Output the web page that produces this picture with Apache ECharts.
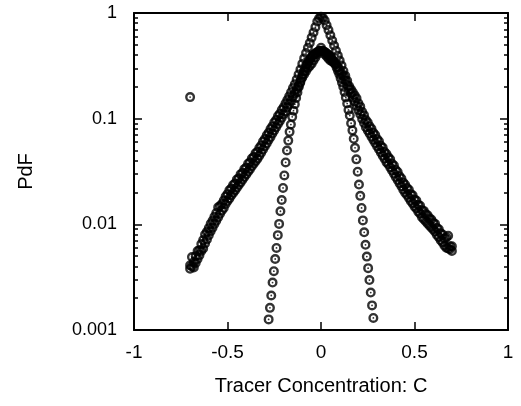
<!DOCTYPE html>
<html>
<head>
<meta charset="utf-8">
<script src="https://cdn.jsdelivr.net/npm/echarts@6/dist/echarts.min.js"></script>
<style>html,body{margin:0;padding:0;background:#fff;}#c{width:521px;height:406px;}</style>
</head>
<body>
<div id="c"></div>
<script>
// ---- data ----
const xTicks = [-1, -0.5, 0, 0.5, 1];
const yTicks = [0.001, 0.01, 0.1, 1];
const yMinorTicks = [0.002,0.003,0.004,0.005,0.006,0.007,0.008,0.009,
  0.02,0.03,0.04,0.05,0.06,0.07,0.08,0.09,
  0.2,0.3,0.4,0.5,0.6,0.7,0.8,0.9];

const narrowX = [-0.280,-0.273,-0.266,-0.259,-0.252,-0.245,-0.238,-0.231,-0.224,-0.217,
  -0.210,-0.203,-0.196,-0.189,-0.182,-0.175,-0.168,-0.161,-0.154,-0.147,
  -0.140,-0.133,-0.126,-0.119,-0.112,-0.105,-0.098,-0.091,-0.084,-0.077,
  -0.070,-0.063,-0.056,-0.049,-0.042,-0.035,-0.028,-0.021,-0.014,-0.007,
  0.000,0.007,0.014,0.021,0.028,0.035,0.042,0.049,0.056,0.063,
  0.070,0.077,0.084,0.091,0.098,0.105,0.112,0.119,0.126,0.133,
  0.140,0.147,0.154,0.161,0.168,0.175,0.182,0.189,0.196,0.203,
  0.210,0.217,0.224,0.231,0.238,0.245,0.252,0.259,0.266,0.273,0.280];
const narrowP = [0.00126,0.00162,0.00212,0.00281,0.00360,0.00470,0.00598,0.00790,0.0101,0.0133,
  0.0170,0.0221,0.0290,0.0385,0.0500,0.0620,0.0750,0.0880,0.104,0.119,
  0.137,0.157,0.177,0.199,0.218,0.240,0.262,0.281,0.301,0.323,
  0.339,0.355,0.371,0.388,0.398,0.407,0.417,0.426,0.432,0.436,
  0.438,0.437,0.433,0.427,0.418,0.408,0.399,0.390,0.373,0.356,
  0.340,0.325,0.303,0.283,0.264,0.241,0.220,0.201,0.179,0.159,
  0.139,0.121,0.107,0.0905,0.0775,0.0645,0.0530,0.0412,0.0315,0.0238,
  0.0186,0.0143,0.0109,0.00840,0.00640,0.00495,0.00385,0.00297,0.00226,0.00171,0.00130];

const broadX = [-0.70,-0.69,-0.68,-0.67,-0.66,-0.65,-0.64,-0.63,-0.62,-0.61,
  -0.60,-0.59,-0.58,-0.57,-0.56,-0.55,-0.54,-0.53,-0.52,-0.51,
  -0.50,-0.49,-0.48,-0.47,-0.46,-0.45,-0.44,-0.43,-0.42,-0.41,
  -0.40,-0.39,-0.38,-0.37,-0.36,-0.35,-0.34,-0.33,-0.32,-0.31,
  -0.30,-0.29,-0.28,-0.27,-0.26,-0.25,-0.24,-0.23,-0.22,-0.21,
  -0.20,-0.19,-0.18,-0.17,-0.16,-0.15,-0.14,-0.13,-0.12,-0.11,
  -0.10,-0.09,-0.08,-0.07,-0.06,-0.05,-0.04,-0.03,-0.02,-0.01,
  0.00,0.01,0.02,0.03,0.04,0.05,0.06,0.07,0.08,0.09,
  0.10,0.11,0.12,0.13,0.14,0.15,0.16,0.17,0.18,0.19,
  0.20,0.21,0.22,0.23,0.24,0.25,0.26,0.27,0.28,0.29,
  0.30,0.31,0.32,0.33,0.34,0.35,0.36,0.37,0.38,0.39,
  0.40,0.41,0.42,0.43,0.44,0.45,0.46,0.47,0.48,0.49,
  0.50,0.51,0.52,0.53,0.54,0.55,0.56,0.57,0.58,0.59,
  0.60,0.61,0.62,0.63,0.64,0.65,0.66,0.67,0.68,0.69,0.70];
const broadA = [0.0041,0.0049,0.0044,0.0050,0.0056,0.0057,0.0065,0.0071,0.0080,0.0085,
  0.0092,0.0101,0.0108,0.0118,0.0128,0.0145,0.0149,0.0156,0.0168,0.0183,
  0.0193,0.0210,0.0218,0.0236,0.0243,0.0265,0.0273,0.0297,0.0307,0.0333,
  0.0344,0.0375,0.0386,0.0420,0.0434,0.0471,0.0487,0.0528,0.0558,0.0607,
  0.0641,0.0697,0.0736,0.0799,0.0845,0.0918,0.0970,0.106,0.111,0.121,
  0.128,0.139,0.150,0.163,0.178,0.195,0.212,0.235,0.262,0.292,
  0.330,0.372,0.418,0.468,0.520,0.585,0.655,0.735,0.830,0.890,
  0.920,0.900,0.850,0.765,0.690,0.615,0.550,0.492,0.440,0.395,
  0.355,0.318,0.283,0.254,0.228,0.204,0.190,0.178,0.166,0.156,
  0.140,0.130,0.116,0.108,0.0970,0.0920,0.0845,0.0800,0.0735,0.0700,
  0.0640,0.0610,0.0555,0.0532,0.0484,0.0463,0.0431,0.0413,0.0375,0.0360,
  0.0327,0.0313,0.0285,0.0272,0.0248,0.0237,0.0221,0.0212,0.0193,0.0188,
  0.0172,0.0168,0.0153,0.0150,0.0136,0.0134,0.0125,0.0122,0.0114,0.0111,
  0.0104,0.0101,0.00925,0.00900,0.00825,0.00800,0.00735,0.00750,0.00780,0.00620,0.00620];
const broadB = [0.0038,0.0040,0.0039,0.0043,0.0047,0.0051,0.0056,0.0059,0.0066,0.0072,
  0.0079,0.0086,0.0093,0.0101,0.0108,0.0117,0.0126,0.0135,0.0143,0.0156,
  0.0166,0.0176,0.0188,0.0198,0.0209,0.0222,0.0236,0.0249,0.0264,0.0280,
  0.0297,0.0314,0.0333,0.0354,0.0374,0.0396,0.0418,0.0446,0.0476,0.0510,
  0.0549,0.0586,0.0630,0.0672,0.0724,0.0775,0.0830,0.0890,0.0950,0.102,
  0.110,0.117,0.128,0.138,0.148,0.162,0.174,0.190,0.204,0.224,
  0.245,0.263,0.282,0.302,0.316,0.331,0.355,0.380,0.407,0.437,
  0.468,0.437,0.407,0.389,0.372,0.355,0.347,0.339,0.331,0.309,
  0.288,0.269,0.251,0.229,0.208,0.190,0.173,0.158,0.145,0.132,
  0.120,0.110,0.0995,0.0910,0.0830,0.0775,0.0723,0.0675,0.0630,0.0588,
  0.0549,0.0513,0.0478,0.0446,0.0417,0.0388,0.0371,0.0346,0.0323,0.0302,
  0.0281,0.0263,0.0245,0.0229,0.0213,0.0199,0.0190,0.0178,0.0166,0.0158,
  0.0148,0.0141,0.0132,0.0126,0.0117,0.0112,0.0107,0.0102,0.00978,0.00935,
  0.00893,0.00850,0.00793,0.00757,0.00707,0.00675,0.00630,0.00600,0.00590,0.00580,0.00560];

const outlierX = [-0.70];
const outlierP = [0.16];

// ---- chart ----
const zip = (xs, ys) => xs.map((x, i) => [x, ys[i]]);
const ring = 'path://M0,-10A10,10,0,1,1,0,10A10,10,0,1,1,0,-10ZM0,-5.2A5.2,5.2,0,1,0,0,5.2A5.2,5.2,0,1,0,0,-5.2ZM0,-1.8A1.8,1.8,0,1,1,0,1.8A1.8,1.8,0,1,1,0,-1.8Z';
const FONT = '"Liberation Sans", Arial, Helvetica, sans-serif';
const black = '#000';

function scat(name, data) {
  return {
    name, type: 'scatter', data, symbol: ring, symbolSize: 10,
    xAxisIndex: 0, yAxisIndex: 0,
    itemStyle: { color: black },
    emphasis: { disabled: true }, silent: true
  };
}

const lineStyle = { color: black, width: 2 };
const tickStyle = { color: black, width: 1.5 };

const xBase = {
  type: 'value', min: -1, max: 1, interval: 0.5,
  splitLine: { show: false },
  axisLine: { show: true, onZero: false, lineStyle },
  axisTick: { show: true, inside: true, length: 8, lineStyle: tickStyle }
};
const yBase = {
  type: 'log', logBase: 10, min: 0.001, max: 1,
  splitLine: { show: false }, minorSplitLine: { show: false }
};

const chart = echarts.init(document.getElementById('c'), null, { renderer: 'canvas' });
chart.setOption({
  animation: false,
  backgroundColor: '#fff',
  grid: { left: 134, right: 13, top: 13, bottom: 76, containLabel: false, outerBoundsMode: 'none' },
  xAxis: [
    Object.assign({}, xBase, {
      position: 'bottom',
      axisLabel: { show: true, color: black, fontSize: 19, fontFamily: FONT, margin: 13,
        customValues: xTicks, showMinLabel: true, showMaxLabel: true },
      name: 'Tracer Concentration: C', nameLocation: 'middle', nameGap: 46,
      nameTextStyle: { color: black, fontSize: 20, fontFamily: FONT }
    }),
    Object.assign({}, xBase, { position: 'top', axisLabel: { show: false } })
  ],
  yAxis: [
    Object.assign({}, yBase, {
      position: 'left',
      axisLine: { show: true, onZero: false, lineStyle },
      axisTick: { show: true, inside: true, length: 8, lineStyle: tickStyle },
      axisLabel: { show: true, color: black, fontSize: 18, fontFamily: FONT, margin: 17,
        customValues: yTicks,
        formatter: v => String(+v.toPrecision(3)) },
      name: 'PdF', nameLocation: 'middle', nameGap: 98, nameRotate: 90,
      nameTextStyle: { color: black, fontSize: 20, fontFamily: FONT }
    }),
    Object.assign({}, yBase, {
      position: 'left',
      axisLine: { show: false, onZero: false },
      axisLabel: { show: false },
      axisTick: { show: true, inside: true, length: 4, lineStyle: tickStyle, customValues: yMinorTicks }
    }),
    Object.assign({}, yBase, {
      position: 'right',
      axisLine: { show: true, onZero: false, lineStyle },
      axisLabel: { show: false },
      axisTick: { show: true, inside: true, length: 8, lineStyle: tickStyle }
    }),
    Object.assign({}, yBase, {
      position: 'right',
      axisLine: { show: false, onZero: false },
      axisLabel: { show: false },
      axisTick: { show: true, inside: true, length: 4, lineStyle: tickStyle, customValues: yMinorTicks }
    })
  ],
  series: [
    scat('narrow', zip(narrowX, narrowP)),
    scat('broadA', zip(broadX, broadA)),
    scat('broadB', zip(broadX, broadB)),
    scat('outlier', zip(outlierX, outlierP))
  ]
});
</script>
</body>
</html>
